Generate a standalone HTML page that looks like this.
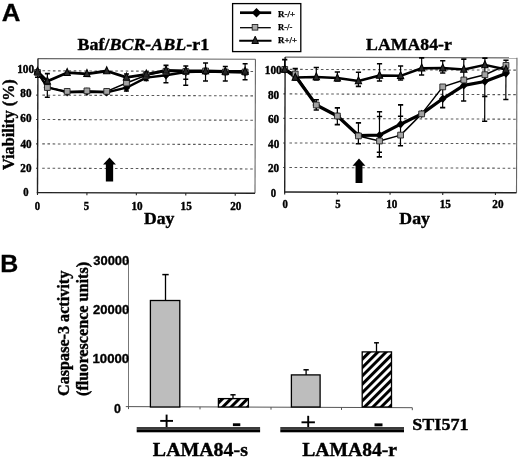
<!DOCTYPE html><html><head><meta charset="utf-8"><style>html,body{margin:0;padding:0;background:#fff;overflow:hidden}svg{display:block;filter:blur(0.45px)}</style></head><body>
<svg width="520" height="459" viewBox="0 0 520 459">
<rect width="520" height="459" fill="#fff"/>
<text x="1.81" y="20.8" font-size="24.6" font-family='"Liberation Sans",sans-serif' font-weight="bold" textLength="18.62" lengthAdjust="spacingAndGlyphs" fill="#000" stroke="#000" stroke-width="0.3">A</text>
<text x="0.38" y="272" font-size="24.6" font-family='"Liberation Sans",sans-serif' font-weight="bold" textLength="18" lengthAdjust="spacingAndGlyphs" fill="#000" stroke="#000" stroke-width="0.3">B</text>
<rect x="232.6" y="3.6" width="68.2" height="48" fill="none" stroke="#000" stroke-width="1.3"/>
<line x1="240" y1="12.7" x2="271.2" y2="12.7" stroke="#000" stroke-width="2.7" />
<path d="M256.5,8 L261.2,12.7 L256.5,17.4 L251.8,12.7 Z" fill="#000"/>
<line x1="240" y1="27.7" x2="270.8" y2="27.7" stroke="#000" stroke-width="1.3" />
<rect x="252.2" y="24.5" width="5.6" height="5.6" fill="#aaa" stroke="#222" stroke-width="0.9"/>
<line x1="239.2" y1="40.8" x2="271.5" y2="40.8" stroke="#000" stroke-width="1.9" />
<path d="M255.2,36.24 L258.5,43.5 L251.9,43.5 Z" fill="#2a2a2a" stroke="#000" stroke-width="1" stroke-linejoin="miter"/>
<text x="278.07" y="16.7" font-size="9" font-family='"Liberation Serif",serif' font-weight="bold" textLength="16.97" lengthAdjust="spacingAndGlyphs" fill="#000" stroke="#000" stroke-width="0.25">R-/+</text>
<text x="278.08" y="30.3" font-size="9" font-family='"Liberation Serif",serif' font-weight="bold" textLength="14.21" lengthAdjust="spacingAndGlyphs" fill="#000" stroke="#000" stroke-width="0.25">R-/-</text>
<text x="278.07" y="43.4" font-size="9" font-family='"Liberation Serif",serif' font-weight="bold" textLength="18.86" lengthAdjust="spacingAndGlyphs" fill="#000" stroke="#000" stroke-width="0.25">R+/+</text>
<text x="17.18" y="72.9" font-size="11.6" font-family='"Liberation Serif",serif' font-weight="bold" textLength="16.97" lengthAdjust="spacingAndGlyphs" fill="#000" stroke="#000" stroke-width="0.4">100</text>
<text x="20.34" y="97" font-size="11.6" font-family='"Liberation Serif",serif' font-weight="bold" textLength="11.17" lengthAdjust="spacingAndGlyphs" fill="#000" stroke="#000" stroke-width="0.4">80</text>
<text x="20.34" y="121.8" font-size="11.6" font-family='"Liberation Serif",serif' font-weight="bold" textLength="11.17" lengthAdjust="spacingAndGlyphs" fill="#000" stroke="#000" stroke-width="0.4">60</text>
<text x="20.45" y="147.8" font-size="11.6" font-family='"Liberation Serif",serif' font-weight="bold" textLength="11.18" lengthAdjust="spacingAndGlyphs" fill="#000" stroke="#000" stroke-width="0.4">40</text>
<text x="20.3" y="172.1" font-size="11.6" font-family='"Liberation Serif",serif' font-weight="bold" textLength="11.17" lengthAdjust="spacingAndGlyphs" fill="#000" stroke="#000" stroke-width="0.4">20</text>
<text x="23.24" y="196.2" font-size="11.6" font-family='"Liberation Serif",serif' font-weight="bold" textLength="5.33" lengthAdjust="spacingAndGlyphs" fill="#000" stroke="#000" stroke-width="0.4">0</text>
<text x="264.78" y="74" font-size="11.6" font-family='"Liberation Serif",serif' font-weight="bold" textLength="16.97" lengthAdjust="spacingAndGlyphs" fill="#000" stroke="#000" stroke-width="0.4">100</text>
<text x="267.94" y="98.8" font-size="11.6" font-family='"Liberation Serif",serif' font-weight="bold" textLength="11.17" lengthAdjust="spacingAndGlyphs" fill="#000" stroke="#000" stroke-width="0.4">80</text>
<text x="267.94" y="123.2" font-size="11.6" font-family='"Liberation Serif",serif' font-weight="bold" textLength="11.17" lengthAdjust="spacingAndGlyphs" fill="#000" stroke="#000" stroke-width="0.4">60</text>
<text x="268.05" y="148" font-size="11.6" font-family='"Liberation Serif",serif' font-weight="bold" textLength="11.18" lengthAdjust="spacingAndGlyphs" fill="#000" stroke="#000" stroke-width="0.4">40</text>
<text x="267.9" y="172.3" font-size="11.6" font-family='"Liberation Serif",serif' font-weight="bold" textLength="11.17" lengthAdjust="spacingAndGlyphs" fill="#000" stroke="#000" stroke-width="0.4">20</text>
<text x="270.84" y="197.3" font-size="11.6" font-family='"Liberation Serif",serif' font-weight="bold" textLength="5.33" lengthAdjust="spacingAndGlyphs" fill="#000" stroke="#000" stroke-width="0.4">0</text>
<text x="34.64" y="210.4" font-size="11.6" font-family='"Liberation Serif",serif' font-weight="bold" textLength="5.33" lengthAdjust="spacingAndGlyphs" fill="#000" stroke="#000" stroke-width="0.4">0</text>
<text x="83.72" y="210.4" font-size="11.6" font-family='"Liberation Serif",serif' font-weight="bold" textLength="5.33" lengthAdjust="spacingAndGlyphs" fill="#000" stroke="#000" stroke-width="0.4">5</text>
<text x="131.49" y="210.4" font-size="11.6" font-family='"Liberation Serif",serif' font-weight="bold" textLength="11.15" lengthAdjust="spacingAndGlyphs" fill="#000" stroke="#000" stroke-width="0.4">10</text>
<text x="180.58" y="210.4" font-size="11.6" font-family='"Liberation Serif",serif' font-weight="bold" textLength="11.15" lengthAdjust="spacingAndGlyphs" fill="#000" stroke="#000" stroke-width="0.4">15</text>
<text x="230.2" y="210.4" font-size="11.6" font-family='"Liberation Serif",serif' font-weight="bold" textLength="11.17" lengthAdjust="spacingAndGlyphs" fill="#000" stroke="#000" stroke-width="0.4">20</text>
<text x="282.44" y="208.3" font-size="11.6" font-family='"Liberation Serif",serif' font-weight="bold" textLength="5.33" lengthAdjust="spacingAndGlyphs" fill="#000" stroke="#000" stroke-width="0.4">0</text>
<text x="335.32" y="208.3" font-size="11.6" font-family='"Liberation Serif",serif' font-weight="bold" textLength="5.33" lengthAdjust="spacingAndGlyphs" fill="#000" stroke="#000" stroke-width="0.4">5</text>
<text x="386.19" y="208.3" font-size="11.6" font-family='"Liberation Serif",serif' font-weight="bold" textLength="11.15" lengthAdjust="spacingAndGlyphs" fill="#000" stroke="#000" stroke-width="0.4">10</text>
<text x="439.78" y="208.3" font-size="11.6" font-family='"Liberation Serif",serif' font-weight="bold" textLength="11.15" lengthAdjust="spacingAndGlyphs" fill="#000" stroke="#000" stroke-width="0.4">15</text>
<text x="492.3" y="208.3" font-size="11.6" font-family='"Liberation Serif",serif' font-weight="bold" textLength="11.17" lengthAdjust="spacingAndGlyphs" fill="#000" stroke="#000" stroke-width="0.4">20</text>
<text x="77.6" y="49.8" font-size="17.5" font-family='"Liberation Serif",serif' font-weight="bold" textLength="31.89" lengthAdjust="spacingAndGlyphs" stroke="#000" stroke-width="0.4">Baf/</text>
<text x="109.49" y="49.8" font-size="17.5" font-family='"Liberation Serif",serif' font-weight="bold" font-style="italic" textLength="76.74" lengthAdjust="spacingAndGlyphs" stroke="#000" stroke-width="0.4">BCR-ABL</text>
<text x="186.23" y="49.8" font-size="17.5" font-family='"Liberation Serif",serif' font-weight="bold" textLength="22.9" lengthAdjust="spacingAndGlyphs" stroke="#000" stroke-width="0.4">-r1</text>
<text x="366.1" y="50.3" font-size="17.6" font-family='"Liberation Serif",serif' font-weight="bold" textLength="85.78" lengthAdjust="spacingAndGlyphs" fill="#000" stroke="#000" stroke-width="0.4">LAMA84-r</text>
<text x="143.99" y="223.8" font-size="17.4" font-family='"Liberation Serif",serif' font-weight="bold" textLength="30.38" lengthAdjust="spacingAndGlyphs" fill="#000" stroke="#000" stroke-width="0.4">Day</text>
<text x="399.39" y="223.8" font-size="17.4" font-family='"Liberation Serif",serif' font-weight="bold" textLength="30.59" lengthAdjust="spacingAndGlyphs" fill="#000" stroke="#000" stroke-width="0.4">Day</text>
<text x="-169.98" y="0" font-size="16" font-family='"Liberation Serif",serif' font-weight="bold" textLength="90.69" lengthAdjust="spacingAndGlyphs" fill="#000" stroke="#000" stroke-width="0.4" transform="translate(14.0,0) rotate(-90)">Viability (%)</text>
<g transform="rotate(0.19 37.5 192.6)">
<line x1="42.1" y1="168.24" x2="255" y2="168.24" stroke="#5a5a5a" stroke-width="1.1" stroke-dasharray="2.6 2.6"/>
<line x1="35.9" y1="168.24" x2="37.5" y2="168.24" stroke="#333" stroke-width="1.1" />
<line x1="42.1" y1="143.87" x2="255" y2="143.87" stroke="#5a5a5a" stroke-width="1.1" stroke-dasharray="2.6 2.6"/>
<line x1="35.9" y1="143.87" x2="37.5" y2="143.87" stroke="#333" stroke-width="1.1" />
<line x1="42.1" y1="119.51" x2="255" y2="119.51" stroke="#5a5a5a" stroke-width="1.1" stroke-dasharray="2.6 2.6"/>
<line x1="35.9" y1="119.51" x2="37.5" y2="119.51" stroke="#333" stroke-width="1.1" />
<line x1="42.1" y1="95.15" x2="255" y2="95.15" stroke="#5a5a5a" stroke-width="1.1" stroke-dasharray="2.6 2.6"/>
<line x1="35.9" y1="95.15" x2="37.5" y2="95.15" stroke="#333" stroke-width="1.1" />
<line x1="42.1" y1="70.78" x2="255" y2="70.78" stroke="#5a5a5a" stroke-width="1.1" stroke-dasharray="2.6 2.6"/>
<line x1="35.9" y1="70.78" x2="37.5" y2="70.78" stroke="#333" stroke-width="1.1" />
<line x1="37.5" y1="58.6" x2="255" y2="58.6" stroke="#666" stroke-width="1.1" />
<line x1="255" y1="58.6" x2="255" y2="192.6" stroke="#666" stroke-width="1.1" />
<line x1="37.5" y1="58.6" x2="37.5" y2="193.2" stroke="#222" stroke-width="1.4" />
<line x1="36.8" y1="192.6" x2="255" y2="192.6" stroke="#222" stroke-width="1.4" />
<line x1="37.5" y1="192.6" x2="37.5" y2="195" stroke="#222" stroke-width="1.1" />
<line x1="86.93" y1="192.6" x2="86.93" y2="195" stroke="#222" stroke-width="1.1" />
<line x1="136.36" y1="192.6" x2="136.36" y2="195" stroke="#222" stroke-width="1.1" />
<line x1="185.8" y1="192.6" x2="185.8" y2="195" stroke="#222" stroke-width="1.1" />
<line x1="235.23" y1="192.6" x2="235.23" y2="195" stroke="#222" stroke-width="1.1" />
<line x1="37.1" y1="71" x2="37.1" y2="77.3" stroke="#000" stroke-width="1.2" />
<line x1="34.6" y1="71" x2="39.6" y2="71" stroke="#000" stroke-width="1.6" />
<line x1="34.6" y1="77.3" x2="39.6" y2="77.3" stroke="#000" stroke-width="1.6" />
<line x1="46.99" y1="73.57" x2="46.99" y2="97.17" stroke="#000" stroke-width="1.2" />
<line x1="44.49" y1="73.57" x2="49.49" y2="73.57" stroke="#000" stroke-width="1.6" />
<line x1="44.49" y1="97.17" x2="49.49" y2="97.17" stroke="#000" stroke-width="1.6" />
<line x1="165.6" y1="64.97" x2="165.6" y2="82.27" stroke="#000" stroke-width="1.2" />
<line x1="163.1" y1="64.97" x2="168.1" y2="64.97" stroke="#000" stroke-width="1.6" />
<line x1="163.1" y1="82.27" x2="168.1" y2="82.27" stroke="#000" stroke-width="1.6" />
<line x1="185.37" y1="65.51" x2="185.37" y2="84.71" stroke="#000" stroke-width="1.2" />
<line x1="182.87" y1="65.51" x2="187.87" y2="65.51" stroke="#000" stroke-width="1.6" />
<line x1="182.87" y1="84.71" x2="187.87" y2="84.71" stroke="#000" stroke-width="1.6" />
<line x1="182.87" y1="78.71" x2="187.87" y2="78.71" stroke="#000" stroke-width="1.6" />
<line x1="205.14" y1="62.44" x2="205.14" y2="80.44" stroke="#000" stroke-width="1.2" />
<line x1="202.64" y1="62.44" x2="207.64" y2="62.44" stroke="#000" stroke-width="1.6" />
<line x1="202.64" y1="80.44" x2="207.64" y2="80.44" stroke="#000" stroke-width="1.6" />
<line x1="224.92" y1="65.88" x2="224.92" y2="80.38" stroke="#000" stroke-width="1.2" />
<line x1="222.42" y1="65.88" x2="227.42" y2="65.88" stroke="#000" stroke-width="1.6" />
<line x1="222.42" y1="80.38" x2="227.42" y2="80.38" stroke="#000" stroke-width="1.6" />
<line x1="244.69" y1="63.01" x2="244.69" y2="79.11" stroke="#000" stroke-width="1.2" />
<line x1="242.19" y1="63.01" x2="247.19" y2="63.01" stroke="#000" stroke-width="1.6" />
<line x1="242.19" y1="79.11" x2="247.19" y2="79.11" stroke="#000" stroke-width="1.6" />
<line x1="126.08" y1="73.71" x2="126.08" y2="90.71" stroke="#000" stroke-width="1.2" />
<line x1="123.58" y1="73.71" x2="128.58" y2="73.71" stroke="#000" stroke-width="1.6" />
<line x1="123.58" y1="90.71" x2="128.58" y2="90.71" stroke="#000" stroke-width="1.6" />
<line x1="145.85" y1="71.64" x2="145.85" y2="80.14" stroke="#000" stroke-width="1.2" />
<line x1="143.35" y1="71.64" x2="148.35" y2="71.64" stroke="#000" stroke-width="1.6" />
<line x1="143.35" y1="80.14" x2="148.35" y2="80.14" stroke="#000" stroke-width="1.6" />
<polyline points="37.1,72 47.04,87.27 66.83,92.1 86.6,91.54 106.37,92.07 126.13,87.41 145.87,77.24 165.63,74.87 185.39,71.51 205.17,70.94 224.94,71.38 244.71,71.81" fill="none" stroke="#000" stroke-width="2.4" stroke-linejoin="round" stroke-linecap="round"/>
<polyline points="37.1,72.5 47.04,87.47 66.82,91.3 86.59,90.74 106.37,91.17 126.11,82.71 145.86,74.94 165.62,70.87 185.39,71.01 205.16,70.44 224.94,71.38 244.71,71.31" fill="none" stroke="#000" stroke-width="1.5" stroke-linejoin="round" stroke-linecap="round"/>
<polyline points="37.1,71.5 47.02,81.27 66.76,72.6 86.54,73.64 106.3,70.77 126.09,77.01 145.86,73.94 165.62,69.87 185.39,70.51 205.16,70.44 224.94,70.88 244.71,70.81" fill="none" stroke="#000" stroke-width="2.8" stroke-linejoin="round" stroke-linecap="round"/>
<path d="M37.1,67.8 L40.88,72 L37.1,76.2 L33.32,72 Z" fill="#000"/>
<path d="M47.04,83.07 L50.82,87.27 L47.04,91.47 L43.26,87.27 Z" fill="#000"/>
<path d="M66.83,87.9 L70.61,92.1 L66.83,96.3 L63.05,92.1 Z" fill="#000"/>
<path d="M86.6,87.34 L90.38,91.54 L86.6,95.74 L82.82,91.54 Z" fill="#000"/>
<path d="M106.37,87.87 L110.15,92.07 L106.37,96.27 L102.59,92.07 Z" fill="#000"/>
<path d="M126.13,83.21 L129.91,87.41 L126.13,91.61 L122.35,87.41 Z" fill="#000"/>
<path d="M145.87,73.04 L149.65,77.24 L145.87,81.44 L142.09,77.24 Z" fill="#000"/>
<path d="M165.63,70.67 L169.41,74.87 L165.63,79.07 L161.85,74.87 Z" fill="#000"/>
<path d="M185.39,67.31 L189.17,71.51 L185.39,75.71 L181.61,71.51 Z" fill="#000"/>
<path d="M205.17,66.74 L208.95,70.94 L205.17,75.14 L201.39,70.94 Z" fill="#000"/>
<path d="M224.94,67.18 L228.72,71.38 L224.94,75.58 L221.16,71.38 Z" fill="#000"/>
<path d="M244.71,67.61 L248.49,71.81 L244.71,76.01 L240.93,71.81 Z" fill="#000"/>
<rect x="34.2" y="69.6" width="5.8" height="5.8" fill="#a2a2a2" stroke="#222" stroke-width="0.9"/>
<rect x="44.14" y="84.57" width="5.8" height="5.8" fill="#a2a2a2" stroke="#222" stroke-width="0.9"/>
<rect x="63.92" y="88.4" width="5.8" height="5.8" fill="#a2a2a2" stroke="#222" stroke-width="0.9"/>
<rect x="83.69" y="87.84" width="5.8" height="5.8" fill="#a2a2a2" stroke="#222" stroke-width="0.9"/>
<rect x="103.47" y="88.27" width="5.8" height="5.8" fill="#a2a2a2" stroke="#222" stroke-width="0.9"/>
<rect x="123.21" y="79.81" width="5.8" height="5.8" fill="#a2a2a2" stroke="#222" stroke-width="0.9"/>
<rect x="142.96" y="72.04" width="5.8" height="5.8" fill="#a2a2a2" stroke="#222" stroke-width="0.9"/>
<rect x="162.72" y="67.97" width="5.8" height="5.8" fill="#a2a2a2" stroke="#222" stroke-width="0.9"/>
<rect x="182.49" y="68.11" width="5.8" height="5.8" fill="#a2a2a2" stroke="#222" stroke-width="0.9"/>
<rect x="202.26" y="67.54" width="5.8" height="5.8" fill="#a2a2a2" stroke="#222" stroke-width="0.9"/>
<rect x="222.04" y="68.48" width="5.8" height="5.8" fill="#a2a2a2" stroke="#222" stroke-width="0.9"/>
<rect x="241.81" y="68.41" width="5.8" height="5.8" fill="#a2a2a2" stroke="#222" stroke-width="0.9"/>
<path d="M37.1,67.28 L40.3,74.32 L33.9,74.32 Z" fill="#2a2a2a" stroke="#000" stroke-width="1" stroke-linejoin="miter"/>
<path d="M47.02,77.04 L50.22,84.08 L43.82,84.08 Z" fill="#2a2a2a" stroke="#000" stroke-width="1" stroke-linejoin="miter"/>
<path d="M66.76,68.38 L69.96,75.42 L63.56,75.42 Z" fill="#2a2a2a" stroke="#000" stroke-width="1" stroke-linejoin="miter"/>
<path d="M86.54,69.41 L89.74,76.45 L83.34,76.45 Z" fill="#2a2a2a" stroke="#000" stroke-width="1" stroke-linejoin="miter"/>
<path d="M106.3,66.55 L109.5,73.59 L103.1,73.59 Z" fill="#2a2a2a" stroke="#000" stroke-width="1" stroke-linejoin="miter"/>
<path d="M126.09,72.78 L129.29,79.82 L122.89,79.82 Z" fill="#2a2a2a" stroke="#000" stroke-width="1" stroke-linejoin="miter"/>
<path d="M145.86,69.72 L149.06,76.76 L142.66,76.76 Z" fill="#2a2a2a" stroke="#000" stroke-width="1" stroke-linejoin="miter"/>
<path d="M165.62,65.65 L168.82,72.69 L162.42,72.69 Z" fill="#2a2a2a" stroke="#000" stroke-width="1" stroke-linejoin="miter"/>
<path d="M185.39,66.28 L188.59,73.32 L182.19,73.32 Z" fill="#2a2a2a" stroke="#000" stroke-width="1" stroke-linejoin="miter"/>
<path d="M205.16,66.22 L208.36,73.26 L201.96,73.26 Z" fill="#2a2a2a" stroke="#000" stroke-width="1" stroke-linejoin="miter"/>
<path d="M224.94,66.65 L228.14,73.69 L221.74,73.69 Z" fill="#2a2a2a" stroke="#000" stroke-width="1" stroke-linejoin="miter"/>
<path d="M244.71,66.59 L247.91,73.63 L241.51,73.63 Z" fill="#2a2a2a" stroke="#000" stroke-width="1" stroke-linejoin="miter"/>
</g>
<g transform="rotate(0.19 284.7 192.0)">
<line x1="289.3" y1="167.47" x2="516.5" y2="167.47" stroke="#5a5a5a" stroke-width="1.1" stroke-dasharray="2.6 2.6"/>
<line x1="283.1" y1="167.47" x2="284.7" y2="167.47" stroke="#333" stroke-width="1.1" />
<line x1="289.3" y1="142.95" x2="516.5" y2="142.95" stroke="#5a5a5a" stroke-width="1.1" stroke-dasharray="2.6 2.6"/>
<line x1="283.1" y1="142.95" x2="284.7" y2="142.95" stroke="#333" stroke-width="1.1" />
<line x1="289.3" y1="118.42" x2="516.5" y2="118.42" stroke="#5a5a5a" stroke-width="1.1" stroke-dasharray="2.6 2.6"/>
<line x1="283.1" y1="118.42" x2="284.7" y2="118.42" stroke="#333" stroke-width="1.1" />
<line x1="289.3" y1="93.89" x2="516.5" y2="93.89" stroke="#5a5a5a" stroke-width="1.1" stroke-dasharray="2.6 2.6"/>
<line x1="283.1" y1="93.89" x2="284.7" y2="93.89" stroke="#333" stroke-width="1.1" />
<line x1="289.3" y1="69.36" x2="516.5" y2="69.36" stroke="#5a5a5a" stroke-width="1.1" stroke-dasharray="2.6 2.6"/>
<line x1="283.1" y1="69.36" x2="284.7" y2="69.36" stroke="#333" stroke-width="1.1" />
<line x1="284.7" y1="57.1" x2="516.5" y2="57.1" stroke="#666" stroke-width="1.1" />
<line x1="516.5" y1="57.1" x2="516.5" y2="192" stroke="#666" stroke-width="1.1" />
<line x1="284.7" y1="57.1" x2="284.7" y2="192.6" stroke="#222" stroke-width="1.4" />
<line x1="284" y1="192" x2="516.5" y2="192" stroke="#222" stroke-width="1.4" />
<line x1="284.7" y1="192" x2="284.7" y2="194.4" stroke="#222" stroke-width="1.1" />
<line x1="337.38" y1="192" x2="337.38" y2="194.4" stroke="#222" stroke-width="1.1" />
<line x1="390.06" y1="192" x2="390.06" y2="194.4" stroke="#222" stroke-width="1.1" />
<line x1="442.75" y1="192" x2="442.75" y2="194.4" stroke="#222" stroke-width="1.1" />
<line x1="495.43" y1="192" x2="495.43" y2="194.4" stroke="#222" stroke-width="1.1" />
<line x1="284.26" y1="59.6" x2="284.26" y2="70" stroke="#000" stroke-width="1.2" />
<line x1="281.66" y1="59.6" x2="286.86" y2="59.6" stroke="#000" stroke-width="1.6" />
<line x1="281.66" y1="70" x2="286.86" y2="70" stroke="#000" stroke-width="1.6" />
<line x1="294.83" y1="68.57" x2="294.83" y2="79.97" stroke="#000" stroke-width="1.2" />
<line x1="292.23" y1="68.57" x2="297.43" y2="68.57" stroke="#000" stroke-width="1.6" />
<line x1="292.23" y1="79.97" x2="297.43" y2="79.97" stroke="#000" stroke-width="1.6" />
<line x1="315.9" y1="67.4" x2="315.9" y2="79.9" stroke="#000" stroke-width="1.2" />
<line x1="313.3" y1="67.4" x2="318.5" y2="67.4" stroke="#000" stroke-width="1.6" />
<line x1="313.3" y1="79.9" x2="318.5" y2="79.9" stroke="#000" stroke-width="1.6" />
<line x1="336.98" y1="71.83" x2="336.98" y2="80.83" stroke="#000" stroke-width="1.2" />
<line x1="334.38" y1="71.83" x2="339.58" y2="71.83" stroke="#000" stroke-width="1.6" />
<line x1="334.38" y1="80.83" x2="339.58" y2="80.83" stroke="#000" stroke-width="1.6" />
<line x1="358.06" y1="72.06" x2="358.06" y2="86.16" stroke="#000" stroke-width="1.2" />
<line x1="355.46" y1="72.06" x2="360.66" y2="72.06" stroke="#000" stroke-width="1.6" />
<line x1="355.46" y1="86.16" x2="360.66" y2="86.16" stroke="#000" stroke-width="1.6" />
<line x1="379.1" y1="63.39" x2="379.1" y2="80.69" stroke="#000" stroke-width="1.2" />
<line x1="376.5" y1="63.39" x2="381.7" y2="63.39" stroke="#000" stroke-width="1.6" />
<line x1="376.5" y1="80.69" x2="381.7" y2="80.69" stroke="#000" stroke-width="1.6" />
<line x1="400.18" y1="65.62" x2="400.18" y2="79.62" stroke="#000" stroke-width="1.2" />
<line x1="397.58" y1="65.62" x2="402.78" y2="65.62" stroke="#000" stroke-width="1.6" />
<line x1="397.58" y1="79.62" x2="402.78" y2="79.62" stroke="#000" stroke-width="1.6" />
<line x1="421.23" y1="57.45" x2="421.23" y2="74.55" stroke="#000" stroke-width="1.2" />
<line x1="418.63" y1="57.45" x2="423.83" y2="57.45" stroke="#000" stroke-width="1.6" />
<line x1="418.63" y1="74.55" x2="423.83" y2="74.55" stroke="#000" stroke-width="1.6" />
<line x1="442.31" y1="60.18" x2="442.31" y2="72.48" stroke="#000" stroke-width="1.2" />
<line x1="439.71" y1="60.18" x2="444.91" y2="60.18" stroke="#000" stroke-width="1.6" />
<line x1="439.71" y1="72.48" x2="444.91" y2="72.48" stroke="#000" stroke-width="1.6" />
<line x1="316" y1="99.7" x2="316" y2="109.9" stroke="#000" stroke-width="1.2" />
<line x1="313.4" y1="99.7" x2="318.6" y2="99.7" stroke="#000" stroke-width="1.6" />
<line x1="313.4" y1="109.9" x2="318.6" y2="109.9" stroke="#000" stroke-width="1.6" />
<line x1="337.1" y1="107.73" x2="337.1" y2="124.43" stroke="#000" stroke-width="1.2" />
<line x1="334.5" y1="107.73" x2="339.7" y2="107.73" stroke="#000" stroke-width="1.6" />
<line x1="334.5" y1="124.43" x2="339.7" y2="124.43" stroke="#000" stroke-width="1.6" />
<line x1="358.22" y1="122.66" x2="358.22" y2="143.46" stroke="#000" stroke-width="1.2" />
<line x1="355.62" y1="122.66" x2="360.82" y2="122.66" stroke="#000" stroke-width="1.6" />
<line x1="355.62" y1="143.46" x2="360.82" y2="143.46" stroke="#000" stroke-width="1.6" />
<line x1="379.26" y1="111.49" x2="379.26" y2="156.59" stroke="#000" stroke-width="1.2" />
<line x1="376.66" y1="111.49" x2="381.86" y2="111.49" stroke="#000" stroke-width="1.6" />
<line x1="376.66" y1="156.59" x2="381.86" y2="156.59" stroke="#000" stroke-width="1.6" />
<line x1="376.66" y1="116.19" x2="381.86" y2="116.19" stroke="#000" stroke-width="1.6" />
<line x1="376.66" y1="151.99" x2="381.86" y2="151.99" stroke="#000" stroke-width="1.6" />
<line x1="400.31" y1="104.52" x2="400.31" y2="145.42" stroke="#000" stroke-width="1.2" />
<line x1="397.71" y1="104.52" x2="402.91" y2="104.52" stroke="#000" stroke-width="1.6" />
<line x1="397.71" y1="145.42" x2="402.91" y2="145.42" stroke="#000" stroke-width="1.6" />
<line x1="397.71" y1="115.92" x2="402.91" y2="115.92" stroke="#000" stroke-width="1.6" />
<line x1="442.39" y1="85.48" x2="442.39" y2="107.08" stroke="#000" stroke-width="1.2" />
<line x1="439.79" y1="85.48" x2="444.99" y2="85.48" stroke="#000" stroke-width="1.6" />
<line x1="439.79" y1="107.08" x2="444.99" y2="107.08" stroke="#000" stroke-width="1.6" />
<line x1="463.38" y1="58.51" x2="463.38" y2="100.41" stroke="#000" stroke-width="1.2" />
<line x1="460.78" y1="58.51" x2="465.98" y2="58.51" stroke="#000" stroke-width="1.6" />
<line x1="460.78" y1="100.41" x2="465.98" y2="100.41" stroke="#000" stroke-width="1.6" />
<line x1="484.45" y1="57.44" x2="484.45" y2="120.64" stroke="#000" stroke-width="1.2" />
<line x1="481.85" y1="57.44" x2="487.05" y2="57.44" stroke="#000" stroke-width="1.6" />
<line x1="481.85" y1="120.64" x2="487.05" y2="120.64" stroke="#000" stroke-width="1.6" />
<line x1="481.85" y1="95.74" x2="487.05" y2="95.74" stroke="#000" stroke-width="1.6" />
<line x1="505.53" y1="59.47" x2="505.53" y2="98.77" stroke="#000" stroke-width="1.2" />
<line x1="502.93" y1="59.47" x2="508.13" y2="59.47" stroke="#000" stroke-width="1.6" />
<line x1="502.93" y1="98.77" x2="508.13" y2="98.77" stroke="#000" stroke-width="1.6" />
<polyline points="284.29,69.4 294.85,75.97 316.02,104.9 337.13,115.83 358.27,135.26 379.34,134.89 400.37,123.82 421.41,113.45 442.44,98.28 463.46,84.81 484.52,80.84 505.57,72.87" fill="none" stroke="#000" stroke-width="3.2" stroke-linejoin="round" stroke-linecap="round"/>
<polyline points="284.29,69.4 294.85,73.97 316.02,104.9 337.13,115.83 358.27,135.66 379.36,140.69 400.41,134.72 421.41,113.45 442.4,86.38 463.45,79.41 484.5,74.04 505.54,64.67" fill="none" stroke="#000" stroke-width="1.5" stroke-linejoin="round" stroke-linecap="round"/>
<polyline points="284.29,69.4 294.86,77.47 315.93,76.8 337,77.93 358.09,80.76 379.14,75.19 400.21,75.42 421.26,67.75 442.33,67.58 463.41,68.91 484.47,64.24 505.56,68.77" fill="none" stroke="#000" stroke-width="2.5" stroke-linejoin="round" stroke-linecap="round"/>
<path d="M284.29,65.2 L288.07,69.4 L284.29,73.6 L280.51,69.4 Z" fill="#000"/>
<path d="M294.85,71.77 L298.63,75.97 L294.85,80.17 L291.07,75.97 Z" fill="#000"/>
<path d="M316.02,100.7 L319.8,104.9 L316.02,109.1 L312.24,104.9 Z" fill="#000"/>
<path d="M337.13,111.63 L340.91,115.83 L337.13,120.03 L333.35,115.83 Z" fill="#000"/>
<path d="M358.27,131.06 L362.05,135.26 L358.27,139.46 L354.49,135.26 Z" fill="#000"/>
<path d="M379.34,130.69 L383.12,134.89 L379.34,139.09 L375.56,134.89 Z" fill="#000"/>
<path d="M400.37,119.62 L404.15,123.82 L400.37,128.02 L396.59,123.82 Z" fill="#000"/>
<path d="M421.41,109.25 L425.19,113.45 L421.41,117.65 L417.63,113.45 Z" fill="#000"/>
<path d="M442.44,94.08 L446.22,98.28 L442.44,102.48 L438.66,98.28 Z" fill="#000"/>
<path d="M463.46,80.61 L467.24,84.81 L463.46,89.01 L459.68,84.81 Z" fill="#000"/>
<path d="M484.52,76.64 L488.3,80.84 L484.52,85.04 L480.74,80.84 Z" fill="#000"/>
<path d="M505.57,68.67 L509.35,72.87 L505.57,77.07 L501.79,72.87 Z" fill="#000"/>
<rect x="281.39" y="66.5" width="5.8" height="5.8" fill="#a2a2a2" stroke="#222" stroke-width="0.9"/>
<rect x="291.95" y="71.07" width="5.8" height="5.8" fill="#a2a2a2" stroke="#222" stroke-width="0.9"/>
<rect x="313.12" y="102" width="5.8" height="5.8" fill="#a2a2a2" stroke="#222" stroke-width="0.9"/>
<rect x="334.23" y="112.93" width="5.8" height="5.8" fill="#a2a2a2" stroke="#222" stroke-width="0.9"/>
<rect x="355.37" y="132.76" width="5.8" height="5.8" fill="#a2a2a2" stroke="#222" stroke-width="0.9"/>
<rect x="376.46" y="137.79" width="5.8" height="5.8" fill="#a2a2a2" stroke="#222" stroke-width="0.9"/>
<rect x="397.51" y="131.82" width="5.8" height="5.8" fill="#a2a2a2" stroke="#222" stroke-width="0.9"/>
<rect x="418.51" y="110.55" width="5.8" height="5.8" fill="#a2a2a2" stroke="#222" stroke-width="0.9"/>
<rect x="439.5" y="83.48" width="5.8" height="5.8" fill="#a2a2a2" stroke="#222" stroke-width="0.9"/>
<rect x="460.55" y="76.51" width="5.8" height="5.8" fill="#a2a2a2" stroke="#222" stroke-width="0.9"/>
<rect x="481.6" y="71.14" width="5.8" height="5.8" fill="#a2a2a2" stroke="#222" stroke-width="0.9"/>
<rect x="502.64" y="61.77" width="5.8" height="5.8" fill="#a2a2a2" stroke="#222" stroke-width="0.9"/>
<path d="M284.29,65.18 L287.49,72.22 L281.09,72.22 Z" fill="#2a2a2a" stroke="#000" stroke-width="1" stroke-linejoin="miter"/>
<path d="M294.86,73.24 L298.06,80.28 L291.66,80.28 Z" fill="#2a2a2a" stroke="#000" stroke-width="1" stroke-linejoin="miter"/>
<path d="M315.93,72.57 L319.13,79.61 L312.73,79.61 Z" fill="#2a2a2a" stroke="#000" stroke-width="1" stroke-linejoin="miter"/>
<path d="M337,73.7 L340.2,80.74 L333.8,80.74 Z" fill="#2a2a2a" stroke="#000" stroke-width="1" stroke-linejoin="miter"/>
<path d="M358.09,76.53 L361.29,83.57 L354.89,83.57 Z" fill="#2a2a2a" stroke="#000" stroke-width="1" stroke-linejoin="miter"/>
<path d="M379.14,70.96 L382.34,78 L375.94,78 Z" fill="#2a2a2a" stroke="#000" stroke-width="1" stroke-linejoin="miter"/>
<path d="M400.21,71.19 L403.41,78.23 L397.01,78.23 Z" fill="#2a2a2a" stroke="#000" stroke-width="1" stroke-linejoin="miter"/>
<path d="M421.26,63.52 L424.46,70.56 L418.06,70.56 Z" fill="#2a2a2a" stroke="#000" stroke-width="1" stroke-linejoin="miter"/>
<path d="M442.33,63.35 L445.53,70.39 L439.13,70.39 Z" fill="#2a2a2a" stroke="#000" stroke-width="1" stroke-linejoin="miter"/>
<path d="M463.41,64.68 L466.61,71.72 L460.21,71.72 Z" fill="#2a2a2a" stroke="#000" stroke-width="1" stroke-linejoin="miter"/>
<path d="M484.47,60.01 L487.67,67.05 L481.27,67.05 Z" fill="#2a2a2a" stroke="#000" stroke-width="1" stroke-linejoin="miter"/>
<path d="M505.56,64.54 L508.76,71.58 L502.36,71.58 Z" fill="#2a2a2a" stroke="#000" stroke-width="1" stroke-linejoin="miter"/>
</g>
<path d="M109.5,157.6 L115.95,164.4 L113.15,164.4 L113.15,181.6 L105.85,181.6 L105.85,164.4 L103.05,164.4 Z" fill="#000"/>
<path d="M359,158.4 L365.45,165.7 L362.45,165.7 L362.45,183 L355.55,183 L355.55,165.7 L352.55,165.7 Z" fill="#000"/>
<defs><pattern id="hatch" patternUnits="userSpaceOnUse" width="5.9" height="5.9" patternTransform="translate(1.8,0) rotate(45)"><rect width="5.9" height="5.9" fill="#fff"/><rect x="0" y="0" width="3.0" height="5.9" fill="#000"/></pattern></defs>
<line x1="128.5" y1="260.6" x2="128.5" y2="407" stroke="#777" stroke-width="1" />
<line x1="125.8" y1="406.6" x2="412.3" y2="407.7" stroke="#555" stroke-width="1" />
<line x1="128.5" y1="406.61" x2="128.5" y2="409.11" stroke="#555" stroke-width="1" />
<line x1="200" y1="406.88" x2="200" y2="409.38" stroke="#555" stroke-width="1" />
<line x1="271" y1="407.16" x2="271" y2="409.66" stroke="#555" stroke-width="1" />
<line x1="341.5" y1="407.43" x2="341.5" y2="409.93" stroke="#555" stroke-width="1" />
<line x1="412.3" y1="407.7" x2="412.3" y2="410.2" stroke="#555" stroke-width="1" />
<line x1="125.5" y1="260.6" x2="128.5" y2="260.6" stroke="#777" stroke-width="1" />
<line x1="125.5" y1="309.4" x2="128.5" y2="309.4" stroke="#777" stroke-width="1" />
<line x1="125.5" y1="358.2" x2="128.5" y2="358.2" stroke="#777" stroke-width="1" />
<line x1="165.5" y1="274.6" x2="165.5" y2="300.5" stroke="#000" stroke-width="1.3" />
<line x1="162.3" y1="274.6" x2="168.7" y2="274.6" stroke="#000" stroke-width="1.5" />
<rect x="150.4" y="300.5" width="29.4" height="106.5" fill="#bdbdbd" stroke="#000" stroke-width="1.3"/>
<line x1="233" y1="394.8" x2="233" y2="398.4" stroke="#000" stroke-width="1.3" />
<line x1="230.4" y1="394.8" x2="235.6" y2="394.8" stroke="#000" stroke-width="1.5" />
<rect x="218.4" y="398.6" width="30" height="8.4" fill="url(#hatch)" stroke="#000" stroke-width="1.3"/>
<line x1="306.1" y1="369.8" x2="306.1" y2="374.9" stroke="#000" stroke-width="1.3" />
<line x1="303.45" y1="369.8" x2="308.75" y2="369.8" stroke="#000" stroke-width="1.5" />
<rect x="291.4" y="374.9" width="28.7" height="32.1" fill="#bdbdbd" stroke="#000" stroke-width="1.3"/>
<line x1="376.5" y1="342.8" x2="376.5" y2="351.9" stroke="#000" stroke-width="1.3" />
<line x1="374.1" y1="342.8" x2="378.9" y2="342.8" stroke="#000" stroke-width="1.5" />
<rect x="362.2" y="351.9" width="29.3" height="55.1" fill="url(#hatch)" stroke="#000" stroke-width="1.3"/>
<text x="93.25" y="264.6" font-size="12" font-family='"Liberation Sans",sans-serif' font-weight="bold" textLength="36.03" lengthAdjust="spacingAndGlyphs" fill="#000" stroke="#000" stroke-width="0.3">30000</text>
<text x="93.1" y="313.5" font-size="12" font-family='"Liberation Sans",sans-serif' font-weight="bold" textLength="36.18" lengthAdjust="spacingAndGlyphs" fill="#000" stroke="#000" stroke-width="0.3">20000</text>
<text x="92.52" y="363" font-size="12" font-family='"Liberation Sans",sans-serif' font-weight="bold" textLength="36.67" lengthAdjust="spacingAndGlyphs" fill="#000" stroke="#000" stroke-width="0.3">10000</text>
<text x="114.06" y="412.5" font-size="12" font-family='"Liberation Sans",sans-serif' font-weight="bold" textLength="6.9" lengthAdjust="spacingAndGlyphs" fill="#000" stroke="#000" stroke-width="0.3">0</text>
<text x="-395.99" y="0" font-size="16.3" font-family='"Liberation Serif",serif' font-weight="bold" textLength="125.25" lengthAdjust="spacingAndGlyphs" fill="#000" stroke="#000" stroke-width="0.4" transform="translate(68.5,0) rotate(-90)">Caspase-3 activity</text>
<text x="-396.01" y="0" font-size="16.3" font-family='"Liberation Serif",serif' font-weight="bold" textLength="134.22" lengthAdjust="spacingAndGlyphs" fill="#000" stroke="#000" stroke-width="0.4" transform="translate(87.8,0) rotate(-90)">(fluorescence units)</text>
<line x1="160.2" y1="420.9" x2="173" y2="420.9" stroke="#000" stroke-width="1.9" />
<line x1="166.6" y1="414.6" x2="166.6" y2="427.3" stroke="#000" stroke-width="1.9" />
<line x1="301.5" y1="422.3" x2="314.9" y2="422.3" stroke="#000" stroke-width="1.9" />
<line x1="308.2" y1="415.8" x2="308.2" y2="428.5" stroke="#000" stroke-width="1.9" />
<rect x="232.9" y="423.3" width="7.4" height="2.8" fill="#000"/>
<rect x="374.5" y="423.4" width="8.0" height="2.9" fill="#000"/>
<rect x="136.7" y="427.0" width="123.4" height="2.6" fill="#3a3a3a"/>
<rect x="136.7" y="429.5" width="123.4" height="2.8" fill="#000"/>
<rect x="280.3" y="427.0" width="123.7" height="2.6" fill="#3a3a3a"/>
<rect x="280.3" y="429.5" width="123.7" height="2.8" fill="#000"/>
<text x="412.34" y="430" font-size="17.6" font-family='"Liberation Serif",serif' font-weight="bold" textLength="56.09" lengthAdjust="spacingAndGlyphs" fill="#000" stroke="#000" stroke-width="0.4">STI571</text>
<text x="152.86" y="455.7" font-size="19" font-family='"Liberation Serif",serif' font-weight="bold" textLength="95.03" lengthAdjust="spacingAndGlyphs" fill="#000" stroke="#000" stroke-width="0.4">LAMA84-s</text>
<text x="302.16" y="456.2" font-size="19" font-family='"Liberation Serif",serif' font-weight="bold" textLength="94.86" lengthAdjust="spacingAndGlyphs" fill="#000" stroke="#000" stroke-width="0.4">LAMA84-r</text>
</svg></body></html>
